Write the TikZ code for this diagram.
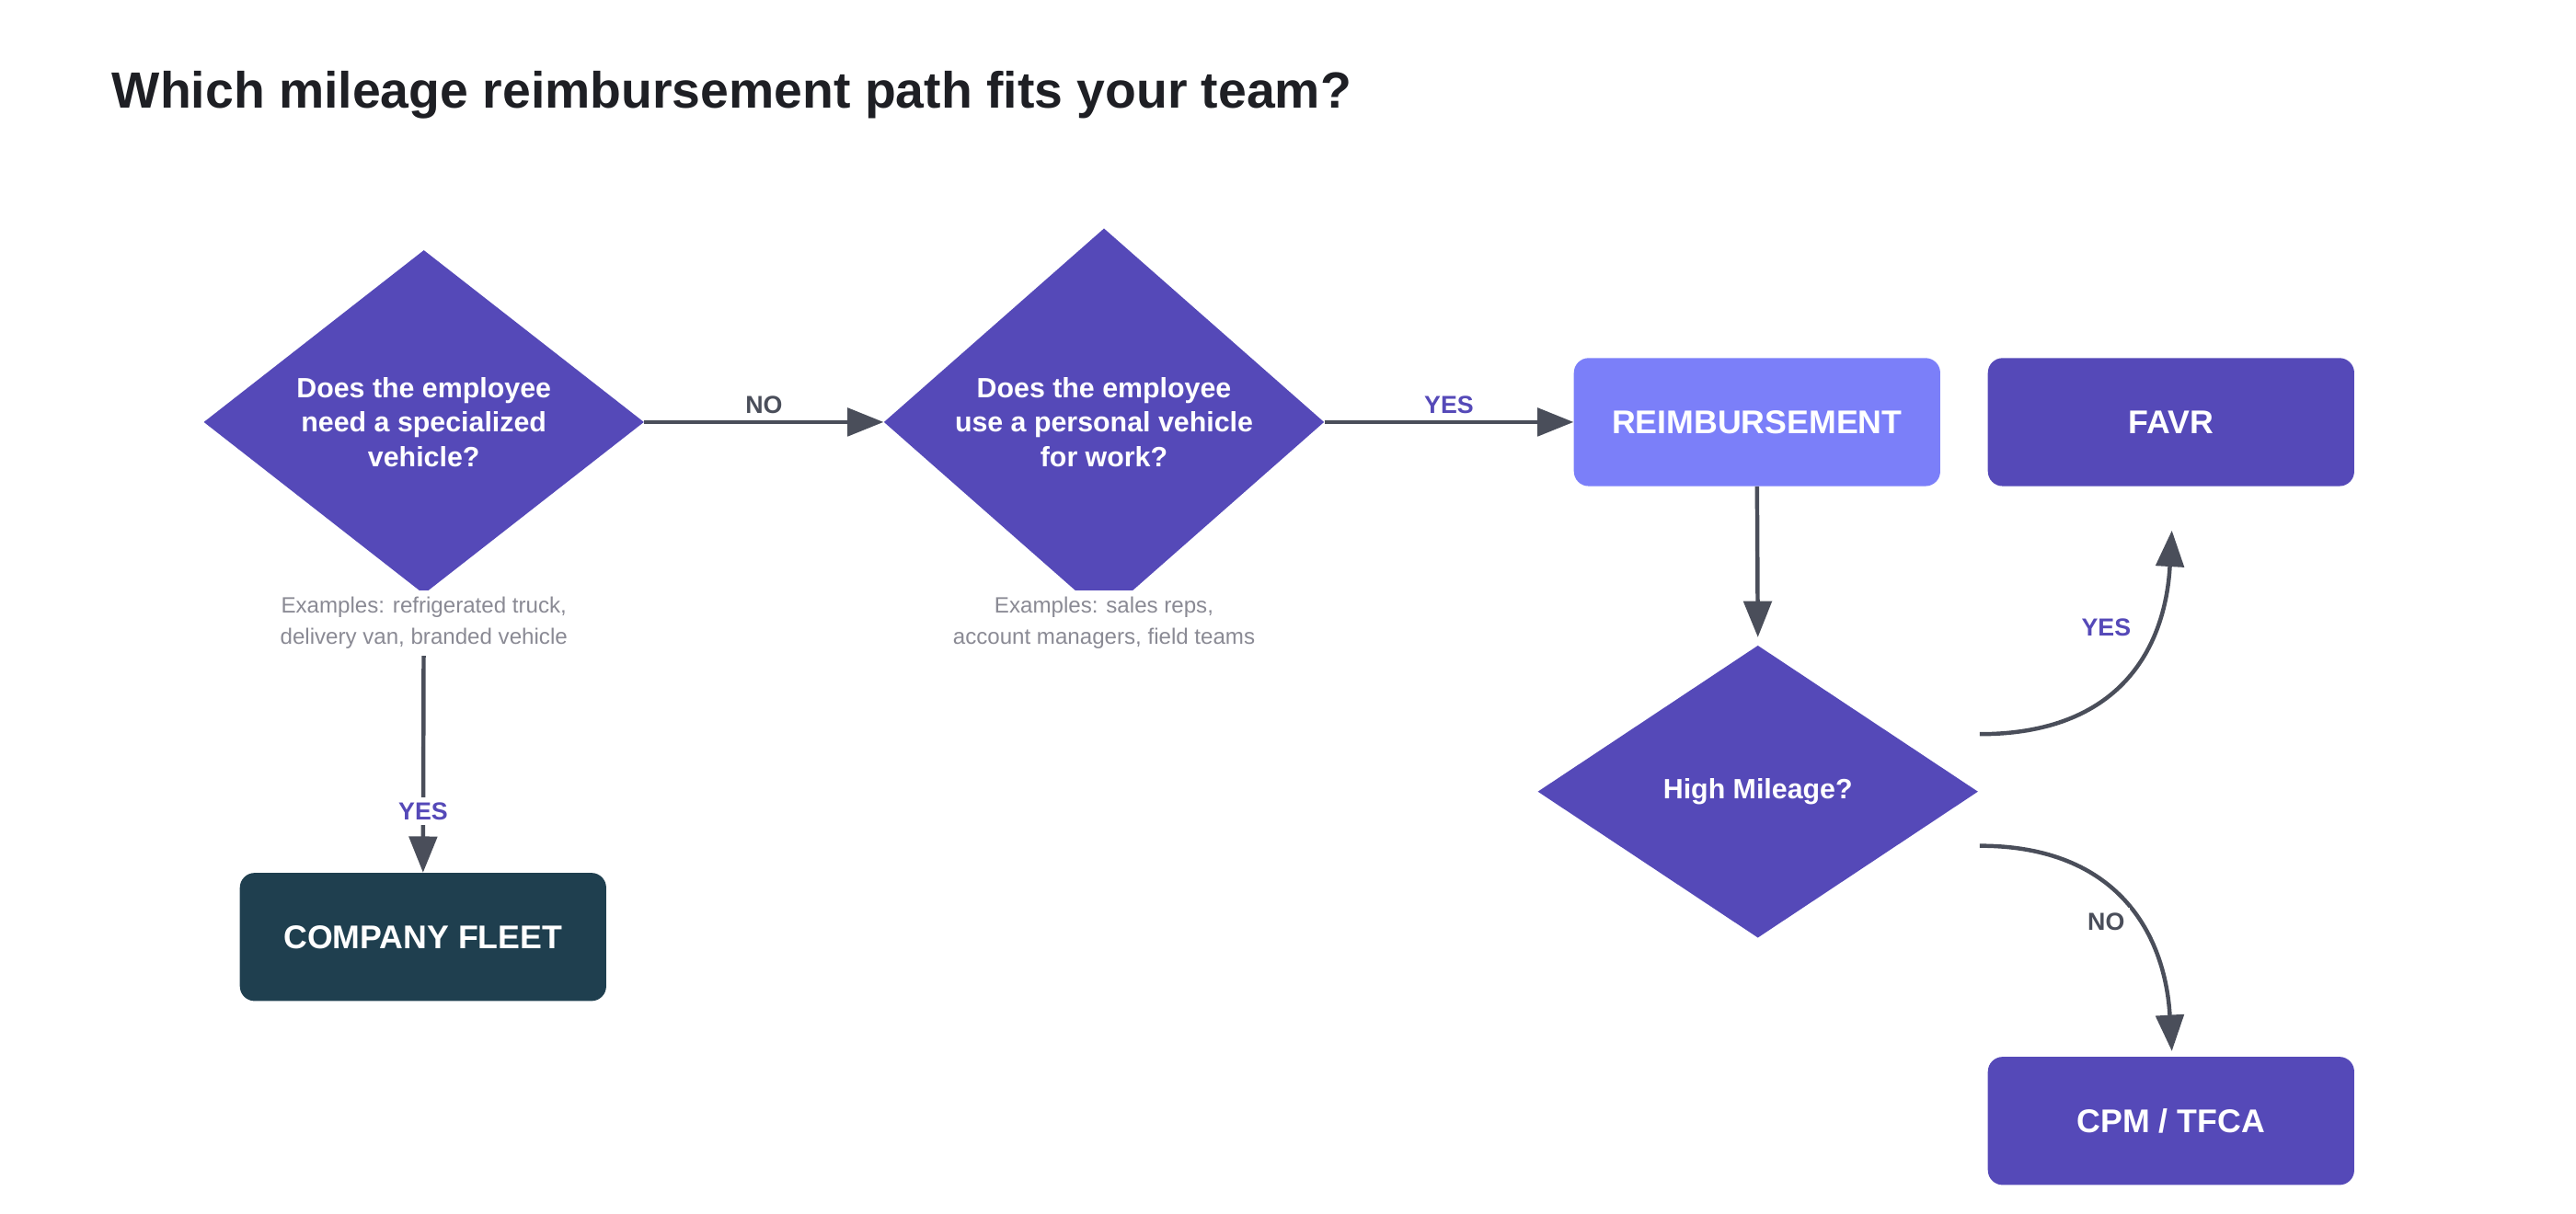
\documentclass[tikz,border=0pt]{standalone}
\usepackage{fontspec}
\setmainfont{Liberation Sans}
\usetikzlibrary{shapes.geometric,arrows.meta}
\definecolor{dp}{HTML}{5549B8}
\definecolor{lp}{HTML}{7B7FF9}
\definecolor{fleet}{HTML}{1F3F4F}
\definecolor{ln}{HTML}{4A4E5A}
\definecolor{gr}{HTML}{8A8A94}
\definecolor{ttl}{HTML}{1E1F24}
\begin{document}
\begin{tikzpicture}[x=1pt,y=-1pt,
 dia/.style={diamond,fill=dp,text=white,font=\fontsize{17}{21}\selectfont\bfseries,align=center,inner sep=0pt,aspect=1,minimum width=268pt,minimum height=178pt},
 box/.style={rounded corners=9pt,text=white,font=\fontsize{20}{24}\selectfont\bfseries,minimum width=223pt,minimum height=78pt,inner sep=0pt},
 arr/.style={draw=ln,line width=2.5pt,-{Triangle[length=22pt,width=17pt]}},
 lbl/.style={fill=white,font=\fontsize{15}{18}\selectfont\bfseries,inner sep=3pt},
 ex/.style={fill=white,text=gr,font=\fontsize{13.5}{19}\selectfont,align=center,inner sep=4pt}]
\useasboundingbox (0,0) rectangle (1568,739);
\node[anchor=base west,text=ttl,font=\fontsize{31}{36}\selectfont\bfseries,inner sep=0] (title) at (68,66) {Which mileage reimbursement path fits your team?};
\node[dia] (d1) at (258,257) {Does the employee\\need a specialized\\vehicle?};
\node[dia] (d2) at (672,257) {Does the employee\\use a personal vehicle\\for work?};
\node[dia] (hm) at (1070,482) {High Mileage?};
\node[box,fill=lp] (re) at (1069.5,257) {REIMBURSEMENT};
\node[box,fill=dp] (favr) at (1321.5,257) {FAVR};
\node[box,fill=dp] (cpm) at (1321.5,682.5) {CPM / TFCA};
\node[box,fill=fleet] (cf) at (257.5,570.5) {COMPANY FLEET};
\draw[arr] (d1.east) -- node[lbl,above=1pt,fill=none,text=ln]{NO} (d2.west);
\draw[arr] (d2.east) -- node[lbl,above=1pt,fill=none,text=dp]{YES} (re.west);
\draw[arr] (re.south) -- (1070,388);
\draw[arr] (d1.south) -- node[lbl,text=dp,pos=0.78]{YES} (cf.north);
\node[ex] (e1) at (258,379.5) {Examples: refrigerated truck,\\delivery van, branded vehicle};
\node[ex] (e2) at (672,379.5) {Examples: sales reps,\\account managers, field teams};
\coordinate (c1s) at (1205,447);
\coordinate (c1e) at (1322,323);
\coordinate (c2s) at (1205,515);
\coordinate (c2e) at (1322,640);
\draw[arr] (c1s) .. controls (1290,447) and (1318,395) .. (c1e);
\draw[arr] (c2s) .. controls (1290,515) and (1318,570) .. (c2e);
\node[lbl,text=dp] (y3) at (1282,382) {YES};
\node[lbl,text=ln] (n3) at (1282,561) {NO};
\end{tikzpicture}
\end{document}
